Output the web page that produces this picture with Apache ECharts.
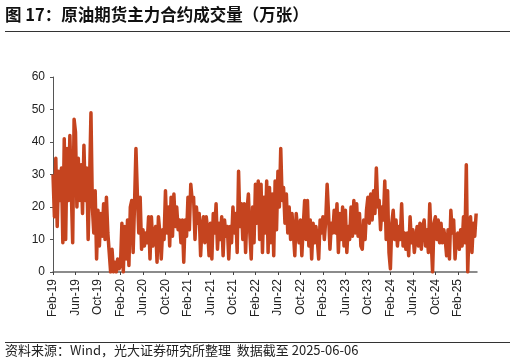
<!DOCTYPE html>
<html><head><meta charset="utf-8">
<script src="https://cdn.jsdelivr.net/npm/echarts@6/dist/echarts.min.js"></script>
<style>html,body{margin:0;padding:0;background:#fff}#c{width:516px;height:364px}</style>
</head><body><div id="c"></div>
<script>
// Labels for x ticks (every 4 months from Feb-19)
const tickLabels = ['Feb-19','Jun-19','Oct-19','Feb-20','Jun-20','Oct-20','Feb-21','Jun-21','Oct-21','Feb-22','Jun-22','Oct-22','Feb-23','Jun-23','Oct-23','Feb-24','Jun-24','Oct-24','Feb-25'];
const yTicks = [0,10,20,30,40,50,60];
const pointsPerMonth = 4;   // samples per month, starting Feb 2019
// 原油期货主力合约成交量（万张）, grouped by month
const volume2019 = [30,17,35,14, 31,22,32,9, 41,10,38,22, 42,25,9,47, 43,20,35,22, 33,18,39,22, 32,10,28,49, 20,12,25,4, 19,8,18,11, 21,10,23,12, 6,0,7,0];
const volume2020 = [3,0,4,1, 2,15,0,14, 4,16,2,20, 22,6,21,38, 24,12,23,7, 13,8,12,9, 17,4,17,8, 12,14,3,17, 12,4,13,10, 25,12,20,8, 23,11,24,14, 20,13,16,9];
const volume2021 = [16,3,16,11, 23,13,27,22, 23,10,20,15, 18,5,14,17, 9,17,13,5, 15,4,18,12, 21,7,15,10, 17,5,16,11, 14,4,14,9, 20,12,18,6, 31,14,21,10, 21,6,19,24];
const volume2022 = [12,4,20,9, 27,15,28,10, 27,6,23,12, 28,6,26,9, 24,5,28,13, 31,20,38,22, 26,15,24,12, 20,10,18,12, 5,18,13,9, 16,5,14,22, 10,22,8,16, 4,15,9,14];
const volume2023 = [10,4,16,12, 17,10,16,27, 18,7,15,12, 19,12,21,6, 18,10,20,8, 19,6,14,10, 20,11,22,12, 21,11,18,8, 7,16,10,19, 23,15,24,16, 25,18,32,20, 22,13,20,16];
const volume2024 = [28,10,25,6, 1,15,19,10, 16,8,14,10, 21,8,12,7, 12,5,17,9, 13,6,10,14, 8,15,7,14, 16,8,13,6, 21,10,0,15, 17,10,16,9, 15,9,13,10, 5,13,4,19];
const volume2025 = [12,16,4,11, 12,7,13,8, 17,9,33,0, 14,17,6,15, 11,18];

const volume = [].concat(volume2019, volume2020, volume2021, volume2022, volume2023, volume2024, volume2025);
const seriesData = volume.map((v, i) => [i / pointsPerMonth, v]);

const chart = echarts.init(document.getElementById('c'), null, {renderer: 'canvas'});
const font = '"Liberation Sans", Arial, sans-serif';
const cjk = '"Noto Sans CJK SC", sans-serif';
chart.setOption({
  animation: false,
  backgroundColor: '#fff',
  grid: {left: 53, right: 39, top: 77, bottom: 92, containLabel: false},
  xAxis: {
    type: 'value', min: 0, max: 75.4, interval: 4,
    splitLine: {show: false},
    axisLine: {lineStyle: {color: '#666', width: 1.5}},
    axisTick: {show: true, length: 3, inside: false, lineStyle: {color: '#444'}},
    axisLabel: {
      rotate: 90, margin: 7, color: '#222', fontSize: 12, fontFamily: font,
      showMaxLabel: false,
      formatter: v => { const k = Math.round(v / 4); return (Math.abs(v - k * 4) < 1e-6 && tickLabels[k]) ? tickLabels[k] : ''; }
    }
  },
  yAxis: {
    type: 'value', min: yTicks[0], max: yTicks[yTicks.length - 1], interval: 10,
    splitLine: {show: false},
    axisLine: {show: true, lineStyle: {color: '#555', width: 1}},
    axisTick: {show: true, length: 3, lineStyle: {color: '#555'}},
    axisLabel: {color: '#222', fontSize: 12, fontFamily: font, margin: 8}
  },
  series: [{
    type: 'line', data: seriesData, showSymbol: false, symbol: 'none',
    lineStyle: {color: '#C5441F', width: 3.5, join: 'round'},
    clip: true
  }],
  graphic: [
    {type: 'text', left: 5, top: 6, style: {text: '图 17：原油期货主力合约成交量（万张）', font: 'bold 16.5px ' + cjk, fill: '#111'}},
    {type: 'line', shape: {x1: 5, y1: 31.5, x2: 510, y2: 31.5}, style: {stroke: '#333', lineWidth: 1}},
    {type: 'line', shape: {x1: 5, y1: 342.5, x2: 510, y2: 342.5}, style: {stroke: '#333', lineWidth: 1}},
    {type: 'text', left: 5, top: 344, style: {text: '资料来源：Wind，光大证券研究所整理  数据截至 2025-06-06', font: '13px ' + cjk, fill: '#222'}}
  ]
});
</script></body></html>
